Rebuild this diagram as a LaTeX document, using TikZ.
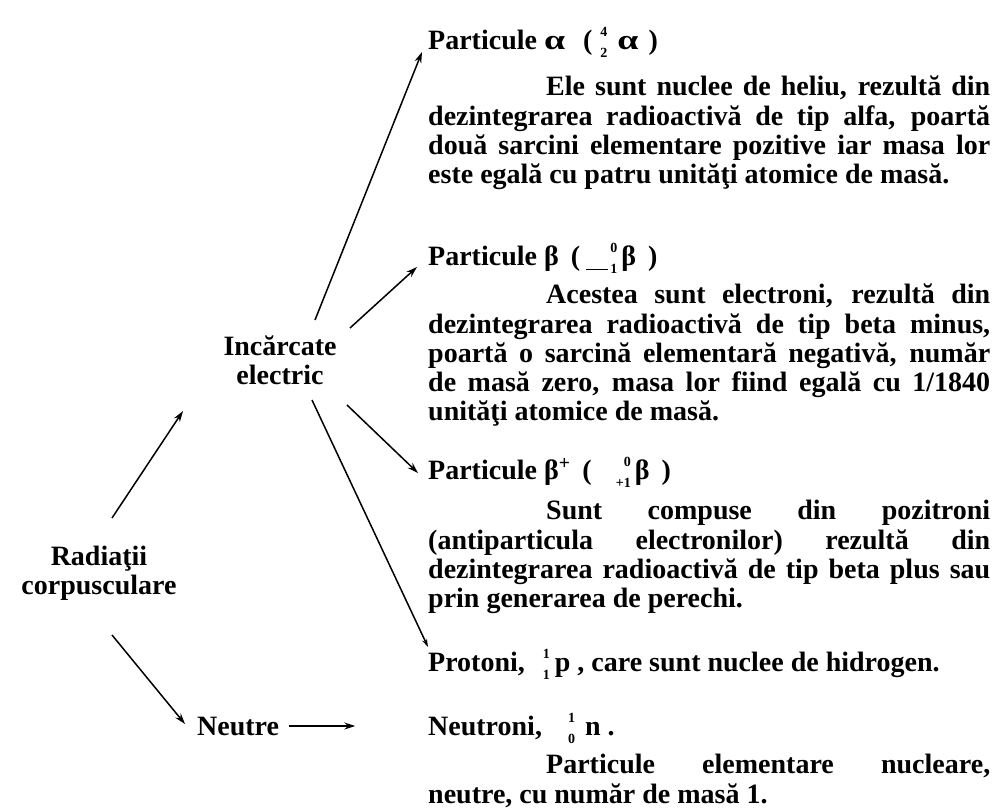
\documentclass[tikz,border=0pt]{standalone}
\usepackage{fontspec}
\usepackage{graphicx}
\setmainfont{Liberation Serif}
\usetikzlibrary{arrows.meta,calc}
\tolerance=10000
\hbadness=10000
\newcommand\iso[2]{{\renewcommand\arraystretch{0.72}\begin{tabular}[c]{@{}r@{}}\fontsize{14}{14}\selectfont #1\\\fontsize{14}{14}\selectfont #2\end{tabular}}}
\newcommand\wal{\scalebox{1.35}[1]{α}}
\newcommand\bodyfnt{\bfseries\fontsize{28}{29.3}\selectfont}
\tikzset{
  head/.style={anchor=base west, inner sep=0pt, font=\bodyfnt},
  para/.style={anchor=north west, inner sep=0pt, text width=562pt, align=justify, font=\bodyfnt},
  lbl/.style={inner sep=0pt, align=center, font=\bodyfnt},
  arr/.style={line width=1.5pt, -{Stealth[length=11pt,width=7pt]}},
  arrs/.style={line width=1.5pt, -{Stealth[length=8pt,width=5pt]}}
}
\begin{document}
\begin{tikzpicture}[x=1pt,y=-1pt]
\path[use as bounding box, fill=white] (0,0) rectangle (994,811);

% left labels
\node[lbl] (rad) at (99,573) {Radiaţii\\corpusculare};
\node[lbl] (inc) at (280,360) {Incărcate\\electric};
\node[lbl, anchor=base west] (neu) at (197,735) {Neutre};

% alpha
\node[head] (alphaH) at (428,49) {Particule \wal\hspace{18pt}(\hspace{8pt}\iso{4}{2}\hspace{10pt}\wal\hspace{10pt})};
\node[para] (alphaP) at (428,75) {\strut\hspace*{118pt}Ele sunt nuclee de heliu, rezultă din\linebreak dezintegrarea radioactivă de tip alfa, poartă\linebreak două sarcini elementare pozitive iar masa lor\linebreak este egală cu patru unităţi atomice de masă.};

% beta minus
\node[head] (betaH) at (428,265) {Particule β\hspace{12pt}(\hspace{6pt}\iso{0}{\rule[3.5pt]{22pt}{1.2pt}\,1}\hspace{4pt}β\hspace{12pt})};
\node[para] (betaP) at (428,283) {\strut\hspace*{118pt}Acestea sunt electroni, rezultă din\linebreak dezintegrarea radioactivă de tip beta minus,\linebreak poartă o sarcină elementară negativă, număr\linebreak de masă zero, masa lor fiind egală cu 1/1840\linebreak unităţi atomice de masă.};

% beta plus
\node[head] (betapH) at (428,479) {Particule β\textsuperscript{+}\hspace{12pt}(\hspace{24pt}\iso{0}{+1}\hspace{4pt}β\hspace{12pt})};
\node[para] (betapP) at (428,499) {\strut\hspace*{118pt}Sunt compuse din pozitroni\linebreak (antiparticula electronilor) rezultă din\linebreak dezintegrarea radioactivă de tip beta plus sau\linebreak prin generarea de perechi.};

% protons
\node[head] (protH) at (428,671) {Protoni,\hspace{18pt}\iso{1}{1}\hspace{5pt}p , care sunt nuclee de hidrogen.};

% neutrons
\node[head] (neutH) at (428,735) {Neutroni,\hspace{26pt}\iso{1}{0}\hspace{10pt}n .};
\node[para] (neutP) at (428,753) {\strut\hspace*{118pt}Particule elementare nucleare,\linebreak neutre, cu număr de masă 1.};

% connectors
\draw[arr] ($(rad)+(13,-55)$) -- ($(inc)+(-97,51)$);
\draw[arr] ($(rad)+(13,62)$) -- ($(neu.west)+(-12,-2)$);
\draw[arr] ($(neu.east)+(10,0)$) -- ($(neu.east)+(76,0)$);
\draw[arr] ($(inc)+(35,-40)$) -- ($(alphaH.base west)+(-6,3)$);
\draw[arr] ($(inc)+(70,-32)$) -- ($(betaH.base west)+(-11,2)$);
\draw[arr] ($(inc)+(67,45)$) -- ($(betapH.base west)+(-10,-6)$);
\draw[arrs] ($(inc)+(32,40)$) -- ($(protH.base west)+(0,-24)$);
\end{tikzpicture}
\end{document}
